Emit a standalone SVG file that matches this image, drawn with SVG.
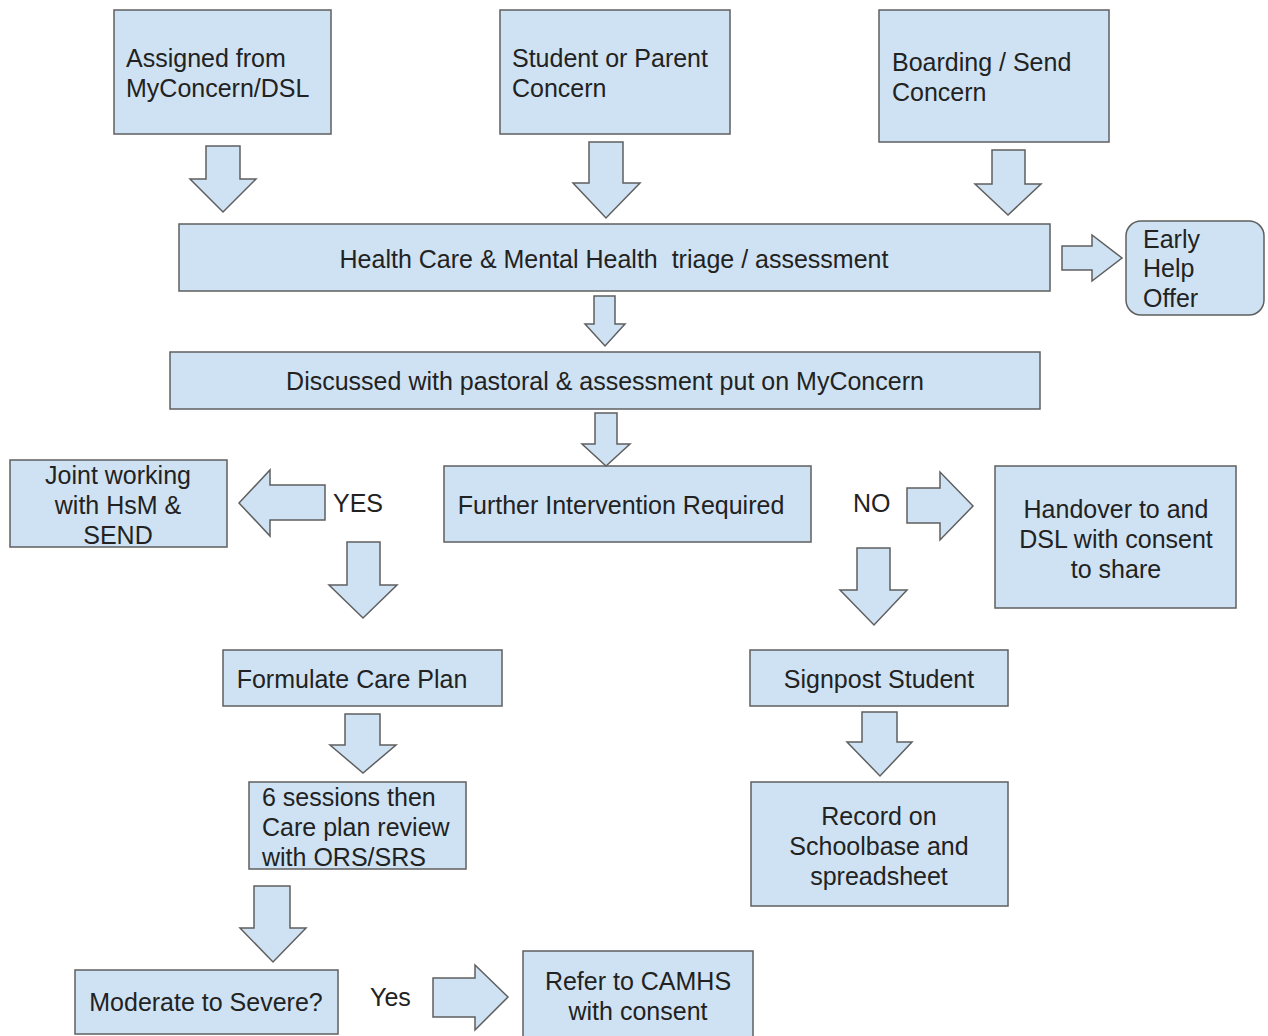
<svg xmlns="http://www.w3.org/2000/svg" width="1268" height="1036" viewBox="0 0 1268 1036">
<style>
.b{fill:#cfe2f3;stroke:#5f5f5f;stroke-width:1.5}
.a{fill:#cfe2f3;stroke:#5f5f5f;stroke-width:1.5;stroke-linejoin:miter}
text{font-family:"Liberation Sans",Arial,sans-serif;font-size:25px;fill:#222;white-space:pre}
.c{text-anchor:middle}
</style>
<rect width="1268" height="1036" fill="#fff"/>
<g id="n1"><rect class="b" x="114" y="10" width="217" height="124"/><text x="126" y="67">Assigned from</text><text x="126" y="97">MyConcern/DSL</text></g>
<g id="n2"><rect class="b" x="500" y="10" width="230" height="124"/><text x="512" y="67">Student or Parent</text><text x="512" y="97">Concern</text></g>
<g id="n3"><rect class="b" x="879" y="10" width="230" height="132"/><text x="892" y="71">Boarding / Send</text><text x="892" y="101">Concern</text></g>
<g id="n4"><rect class="b" x="179" y="224" width="871" height="67"/><text class="c" x="614" y="268" xml:space="preserve">Health Care &amp; Mental Health  triage / assessment</text></g>
<g id="n5"><rect class="b" x="1126" y="221" width="138" height="94" rx="15"/><text x="1143" y="248">Early</text><text x="1143" y="277">Help</text><text x="1143" y="307">Offer</text></g>
<g id="n6"><rect class="b" x="170" y="352" width="870" height="57"/><text class="c" x="605" y="390">Discussed with pastoral &amp; assessment put on MyConcern</text></g>
<g id="n7"><rect class="b" x="444" y="466" width="367" height="76"/><text class="c" x="621" y="514">Further Intervention Required</text></g>
<g id="n8"><rect class="b" x="10" y="460" width="217" height="87"/><text class="c" x="118" y="484">Joint working</text><text class="c" x="118" y="514">with HsM &amp;</text><text class="c" x="118" y="544">SEND</text></g>
<g id="n9"><rect class="b" x="995" y="466" width="241" height="142"/><text class="c" x="1116" y="518">Handover to and</text><text class="c" x="1116" y="548">DSL with consent</text><text class="c" x="1116" y="578">to share</text></g>
<g id="n10"><rect class="b" x="223" y="650" width="279" height="56"/><text class="c" x="352" y="688">Formulate Care Plan</text></g>
<g id="n11"><rect class="b" x="750" y="650" width="258" height="56"/><text class="c" x="879" y="688">Signpost Student</text></g>
<g id="n12"><rect class="b" x="249" y="782" width="217" height="87"/><text x="262" y="806">6 sessions then</text><text x="262" y="836">Care plan review</text><text x="262" y="866">with ORS/SRS</text></g>
<g id="n13"><rect class="b" x="751" y="782" width="257" height="124"/><text class="c" x="879" y="825">Record on</text><text class="c" x="879" y="855">Schoolbase and</text><text class="c" x="879" y="885">spreadsheet</text></g>
<g id="n14"><rect class="b" x="75" y="970" width="263" height="64"/><text class="c" x="206" y="1011">Moderate to Severe?</text></g>
<g id="n15"><rect class="b" x="523" y="951" width="230" height="90"/><text class="c" x="638" y="990">Refer to CAMHS</text><text class="c" x="638" y="1020">with consent</text></g>
<g id="connectors">
<path class="a" d="M206 146 H240 V179 H256 L223 212 L190 179 H206 Z"/>
<path class="a" d="M589 142 H623 V183 H640 L606 218 L573 183 H589 Z"/>
<path class="a" d="M992 150 H1025 V184 H1041 L1008 215 L975 184 H992 Z"/>
<path class="a" d="M1062 246 H1092 V235 L1122 258 L1092 281 V270 H1062 Z"/>
<path class="a" d="M594 296 H615 V324 H625 L605 346 L585 324 H594 Z"/>
<path class="a" d="M595 413 H617 V444 H630 L606 466 L582 444 H595 Z"/>
<path class="a" d="M325 485 H270 V470 L239 503 L270 536 V520 H325 Z"/>
<path class="a" d="M347 542 H380 V585 H397 L363 618 L329 585 H347 Z"/>
<path class="a" d="M907 488 H940 V472 L973 506 L940 540 V523 H907 Z"/>
<path class="a" d="M857 548 H890 V590 H907 L874 625 L840 590 H857 Z"/>
<path class="a" d="M345 714 H380 V745 H396 L363 773 L330 745 H345 Z"/>
<path class="a" d="M862 712 H897 V742 H912 L880 776 L847 742 H862 Z"/>
<path class="a" d="M254 886 H290 V928 H306 L273 962 L240 928 H254 Z"/>
<path class="a" d="M433 978 H475 V965 L508 997 L475 1030 V1017 H433 Z"/>
</g>
<text x="333" y="512">YES</text>
<text x="853" y="512">NO</text>
<text x="370" y="1006">Yes</text>
</svg>
